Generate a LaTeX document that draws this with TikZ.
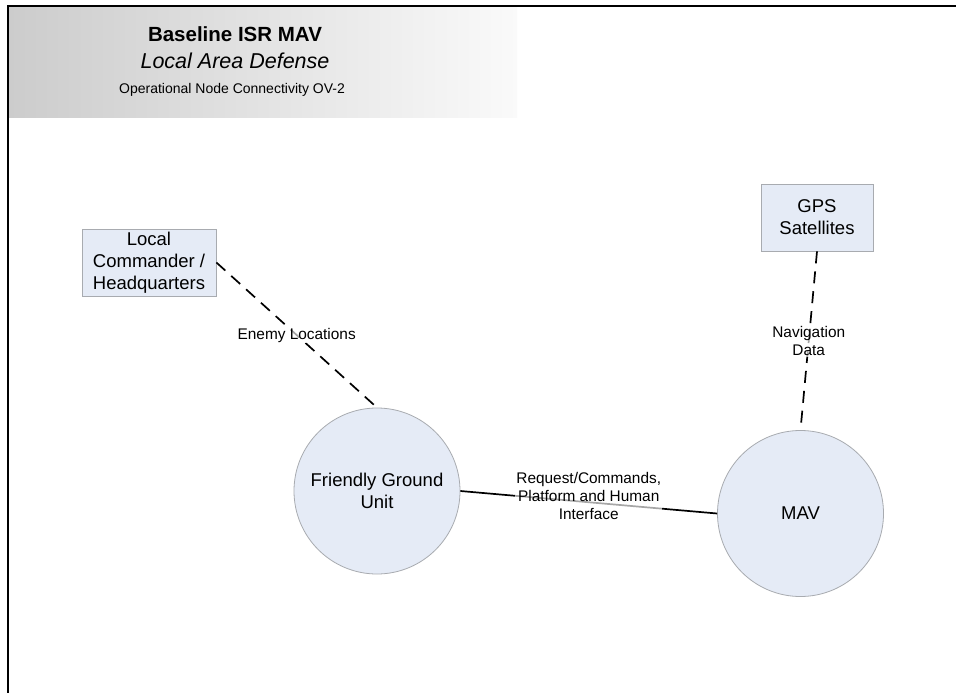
\documentclass[tikz,border=0pt]{standalone}
\usepackage{fontspec}
\setmainfont{Liberation Sans}
\usepackage{tikz}
\usetikzlibrary{positioning}
\usetikzlibrary{arrows.meta}

\definecolor{nodefill}{HTML}{E5EBF6}
\definecolor{nodeline}{HTML}{A8ABB0}

\begin{document}
\begin{tikzpicture}[x=1pt, y=-1pt,
    opnode/.style={draw=nodeline, line width=0.8pt, fill=nodefill, align=center, inner sep=0pt,
      font=\fontsize{18.5}{21.8}\selectfont},
    boxnode/.style={opnode, rectangle},
    unitnode/.style={opnode, circle, minimum size=166pt},
    link/.style={line width=1.7pt},
    dashlink/.style={link, dash pattern=on 12pt off 8pt},
    linklabel/.style={fill=white, fill opacity=0.65, text opacity=1, inner sep=1pt, align=center,
      font=\fontsize{15.4}{18.2}\selectfont}]
  \useasboundingbox (0,0) rectangle (956,693);
  \fill[white] (0,0) rectangle (956,693);

  \shade[left color=black!20, right color=black!2] (8,6) rectangle (517,117);
  \draw[line width=1.5pt] (8,693) -- (8,6) -- (956,6);

  \node[anchor=base, font=\fontsize{20.5}{24}\selectfont\bfseries] (title) at (235,42) {Baseline ISR MAV};
  \node[anchor=base, font=\fontsize{21.5}{24}\selectfont\itshape] (subtitle) at (235,68.5) {Local Area Defense};
  \node[anchor=base, font=\fontsize{14}{17}\selectfont] (caption) at (232,93) {Operational Node Connectivity OV-2};

  \node[boxnode, minimum width=134pt, minimum height=67pt] (lc) at (149,262.5) {Local\\Commander /\\Headquarters};
  \node[boxnode, minimum width=112pt, minimum height=67pt] (gps) at (817,217.5) {GPS\\Satellites};
  \node[unitnode] (fgu) at (377,491) {Friendly Ground\\Unit};
  \node[unitnode] (mav) at (800.5,513.5) {MAV};

  \draw[dashlink] (lc.east) -- (fgu.north) node[midway, linklabel] (enemy) {Enemy Locations};
  \draw[dashlink] (gps.south) -- (mav.north) node[midway, linklabel] (nav) {Navigation\\Data};
  \draw[link] (fgu.east) -- (mav.west) node[midway, linklabel, yshift=6pt] (req) {Request/Commands,\\Platform and Human\\Interface};
\end{tikzpicture}
\end{document}
